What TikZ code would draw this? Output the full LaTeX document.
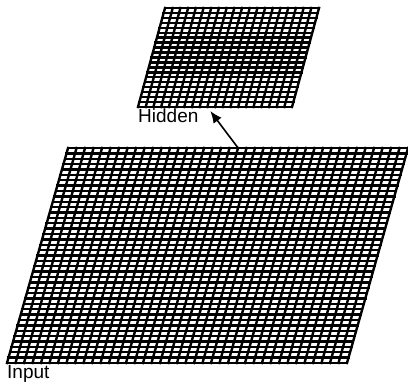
\documentclass[tikz,border=0pt]{standalone}
\usepackage{fontspec}
\setmainfont{Liberation Sans}
\usetikzlibrary{arrows.meta, positioning, calc}

\begin{document}
\begin{tikzpicture}[
    x=1pt, y=1pt,
    gridline/.style={line width=2.4pt, black, line cap=rect},
    layerlabel/.style={anchor=north west, inner sep=0pt, font=\fontsize{19}{19}\selectfont},
]
\useasboundingbox (0,0) rectangle (408,382);

% Input layer (40 x 40)
\begin{scope}[shift={(7,19)}, xslant=0.284, x=8.5pt, y=5.375pt]
\foreach \i in {0,...,40} {
    \draw[gridline] (\i,0) -- (\i,40);
    \draw[gridline] (0,\i) -- (40,\i);
}
\coordinate (intop) at (20,40);
\coordinate (incorner) at (0,0);
\end{scope}

% Hidden layer (20 x 20)
\begin{scope}[shift={(138,275)}, xslant=0.273, x=7.7pt, y=4.95pt]
\foreach \i in {0,...,20} {
    \draw[gridline] (\i,0) -- (\i,20);
    \draw[gridline] (0,\i) -- (20,\i);
}
\coordinate (hidbottom) at (9,0);
\coordinate (hidcorner) at (0,0);
\end{scope}

% Labels
\node[layerlabel, yshift=-2pt] (hidden) at (hidcorner) {Hidden};
\node[layerlabel, yshift=-2pt] (input) at (incorner) {Input};

% Connection
\draw[-{Latex[length=12pt,width=10pt]}, line width=1.6pt, shorten >=5pt] (intop) -- (hidbottom);

\end{tikzpicture}
\end{document}
